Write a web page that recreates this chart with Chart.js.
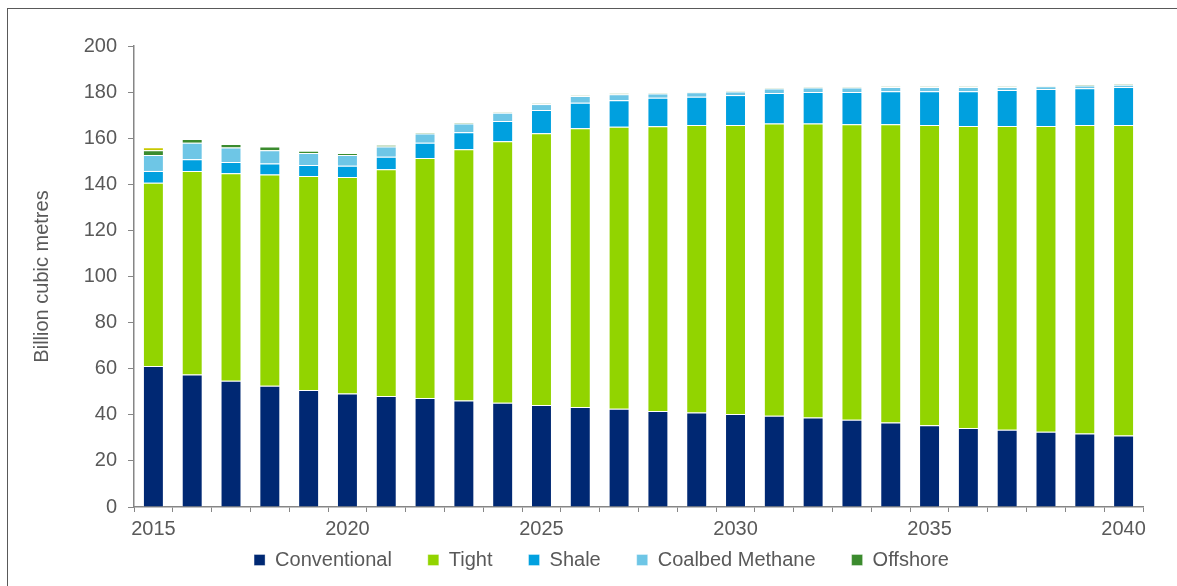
<!DOCTYPE html>
<html>
<head>
<meta charset="utf-8">
<script src="https://cdn.jsdelivr.net/npm/chart.js@4.4.1/dist/chart.umd.min.js"></script>
<style>
  html, body { margin: 0; padding: 0; background: #fff; overflow: hidden; }
  #frame { position: absolute; left: 7px; top: 8px; width: 1170px; height: 578px;
           border-left: 1px solid #595959; border-top: 1px solid #595959; }
  #wrap { position: absolute; left: 0; top: 0; width: 1177px; height: 586px; }
</style>
</head>
<body>
<div id="frame"></div>
<div id="wrap"><canvas id="chartCanvas" width="1177" height="586"></canvas></div>
<script>
// Années
const years = ['2015','2016','2017','2018','2019','2020','2021','2022','2023','2024','2025','2026','2027',
               '2028','2029','2030','2031','2032','2033','2034','2035','2036','2037','2038','2039','2040'];

// Valeurs (milliards de m3)
const conventional = [61.2, 57.5, 54.8, 52.6, 50.8, 49.2, 48.2, 47.3, 46.2, 45.2, 44.3, 43.4, 42.6,
                      41.7, 41.0, 40.3, 39.6, 38.8, 37.8, 36.7, 35.5, 34.3, 33.5, 32.7, 31.9, 31.0];
const tight = [79.5, 88.3, 90.0, 91.6, 92.8, 94.0, 98.3, 104.1, 109.0, 113.5, 117.9, 120.9, 122.4,
               123.5, 124.7, 125.4, 126.8, 127.6, 128.3, 129.4, 130.2, 131.0, 131.8, 132.6, 133.8, 134.7];
const shale = [5.1, 5.1, 4.9, 4.8, 4.8, 4.8, 5.4, 6.6, 7.4, 8.8, 10.0, 11.1, 11.5,
               12.3, 12.3, 13.0, 13.2, 13.6, 13.9, 14.3, 14.7, 15.1, 15.6, 16.0, 16.0, 16.5];
const coalbed = [6.9, 7.1, 6.3, 5.8, 5.2, 4.7, 4.5, 4.0, 3.8, 3.5, 2.6, 2.9, 2.6,
                 1.9, 1.9, 1.6, 2.0, 2.0, 2.0, 1.8, 1.8, 1.8, 1.3, 1.2, 1.2, 1.0];
const offshore = [2.1, 1.7, 1.5, 1.6, 1.0, 0.8, 0.6, 0.5, 0.3, 0.3, 0.3, 0.2, 0.3,
                  0.2, 0.2, 0.2, 0.2, 0.2, 0.2, 0.2, 0.2, 0.2, 0.2, 0.3, 0.3, 0.3];
const other = [1.3, 0, 0, 0, 0, 0, 0, 0, 0, 0, 0, 0, 0,
               0, 0, 0, 0, 0, 0, 0, 0, 0, 0, 0, 0, 0];

const axisColor = '#868686';
const textColor = '#595959';
const fontFamily = '"Liberation Sans", Arial, sans-serif';

function serie(label, data, color) {
    return {
        label: label,
        data: data,
        backgroundColor: color,
        borderColor: 'rgba(255,255,255,0.35)',
        borderWidth: 1,
        categoryPercentage: 1.0,
        barPercentage: 0.54
    };
}

// Hauteur fixe de la légende, puis on la place sous l'axe
// (le padding de 36 sert surtout à l'espacement horizontal)
const legendPlace = {
    id: 'legendPlace',
    afterInit(chart) {
        const legend = chart.legend;
        const fit = legend.fit.bind(legend);
        legend.fit = function () { fit(); this.height = 40; };
    },
    afterLayout(chart) {
        chart.legend.top = 514;
        chart.legend.left += 15;
        chart.legend.right += 15;
    }
};

const chart = new Chart(document.getElementById('chartCanvas'), {
    type: 'bar',
    data: {
        labels: years,
        datasets: [
            serie('Conventional', conventional, '#002873'),
            serie('Tight', tight, '#92D400'),
            serie('Shale', shale, '#00A0DF'),
            serie('Coalbed Methane', coalbed, '#6EC6E6'),
            serie('Offshore', offshore, '#3B8B2E'),
            serie('Other', other, '#C8C800')
        ]
    },
    plugins: [legendPlace],
    options: {
        responsive: false,
        animation: false,
        devicePixelRatio: 1,
        layout: { padding: { left: 30, right: 34, top: 46, bottom: 0 } },
        plugins: {
            legend: {
                position: 'bottom',
                labels: {
                    filter: item => item.text !== 'Other',
                    boxWidth: 11,
                    boxHeight: 11,
                    padding: 36,
                    color: textColor,
                    font: { family: fontFamily, size: 20 }
                }
            },
            tooltip: { enabled: false }
        },
        scales: {
            x: {
                stacked: true,
                offset: true,
                afterFit: scale => { scale.height = 39; },
                grid: { offset: true, drawOnChartArea: false, drawTicks: true, tickLength: 5, color: axisColor },
                border: { color: axisColor, width: 1.5 },
                ticks: {
                    autoSkip: false,
                    maxRotation: 0,
                    padding: 5,
                    color: textColor,
                    font: { family: fontFamily, size: 20 },
                    callback: (v, i) => (i % 5 === 0 ? years[i] : '')
                }
            },
            y: {
                stacked: true,
                min: 0,
                max: 200,
                afterFit: scale => { scale.width = 104; },
                grid: { drawOnChartArea: false, drawTicks: true, tickLength: 6, color: axisColor },
                border: { color: axisColor, width: 1.5 },
                ticks: {
                    stepSize: 20,
                    padding: 11,
                    color: textColor,
                    font: { family: fontFamily, size: 20 }
                },
                title: {
                    display: true,
                    text: 'Billion cubic metres',
                    color: textColor,
                    padding: 0,
                    font: { family: fontFamily, size: 20 }
                }
            }
        }
    }
});
</script>
</body>
</html>
